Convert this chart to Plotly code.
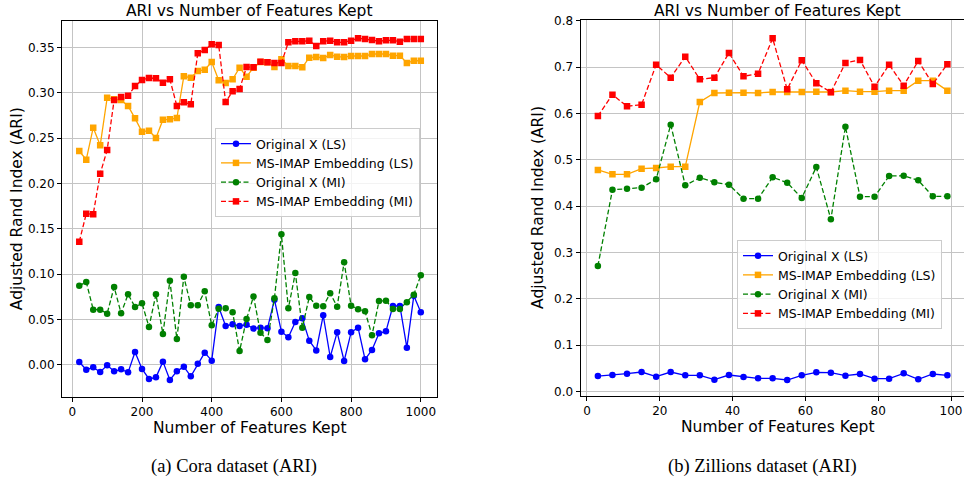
import plotly.graph_objects as go

# ---------------- data ----------------
cora_x = list(range(20, 1001, 20))
cora_orig_ls = [0.0032, -0.0053, -0.0027, -0.0078, -0.0005, -0.0071, -0.0049, -0.0082, 0.0142, -0.0045,
                -0.0155, -0.0137, 0.0036, -0.0166, -0.0071, -0.0020, -0.0126, 0.0013, 0.0135, 0.0047,
                0.0638, 0.0429, 0.0447, 0.0429, 0.0443, 0.0401, 0.0410, 0.0403, 0.0719, 0.0366,
                0.0304, 0.0473, 0.0513, 0.0267, 0.0160, 0.0546, 0.0087, 0.0359, 0.0043, 0.0359,
                0.0410, 0.0062, 0.0164, 0.0348, 0.0370, 0.0649, 0.0649, 0.0190, 0.0763, 0.0580]
cora_msimap_ls = [0.2357, 0.2261, 0.2614, 0.2420, 0.2945, 0.2927, 0.2919, 0.2853, 0.2717, 0.2570,
                  0.2581, 0.2500, 0.2702, 0.2706, 0.2721, 0.3180, 0.3165, 0.3239, 0.3253, 0.3338,
                  0.3136, 0.3107, 0.3147, 0.3275, 0.3176, 0.3275, 0.3338, 0.3335, 0.3283, 0.3368,
                  0.3294, 0.3294, 0.3280, 0.3385, 0.3393, 0.3382, 0.3415, 0.3397, 0.3393, 0.3404,
                  0.3404, 0.3404, 0.3426, 0.3426, 0.3426, 0.3408, 0.3408, 0.3327, 0.3352, 0.3352]
cora_orig_mi = [0.0873, 0.0914, 0.0609, 0.0609, 0.0565, 0.0859, 0.0568, 0.0778, 0.0638, 0.0679,
                0.0418, 0.0778, 0.0340, 0.0928, 0.0285, 0.0972, 0.0657, 0.0657, 0.0811, 0.0436,
                0.0620, 0.0623, 0.0580, 0.0153, 0.0506, 0.0754, 0.0355, 0.0274, 0.0734, 0.1439,
                0.0623, 0.1013, 0.0410, 0.0748, 0.0653, 0.0645, 0.0789, 0.0642, 0.1131, 0.0653,
                0.0612, 0.0590, 0.0326, 0.0704, 0.0708, 0.0616, 0.0616, 0.0690, 0.0774, 0.0987]
cora_msimap_mi = [0.1358, 0.1666, 0.1660, 0.2107, 0.2368, 0.2919, 0.2952, 0.2967, 0.3073, 0.3140,
                  0.3162, 0.3158, 0.3110, 0.3147, 0.2853, 0.2894, 0.2872, 0.3434, 0.3470, 0.3533,
                  0.3525, 0.2897, 0.3015, 0.3040, 0.3283, 0.3280, 0.3342, 0.3335, 0.3327, 0.3327,
                  0.3555, 0.3566, 0.3566, 0.3573, 0.3514, 0.3566, 0.3573, 0.3555, 0.3555, 0.3573,
                  0.3599, 0.3591, 0.3580, 0.3566, 0.3577, 0.3577, 0.3562, 0.3591, 0.3591, 0.3591]

zil_x = list(range(3, 100, 4))
zil_orig_ls = [0.0330, 0.0352, 0.0380, 0.0417, 0.0316, 0.0417, 0.0345, 0.0345, 0.0251, 0.0352,
               0.0309, 0.0280, 0.0280, 0.0244, 0.0345, 0.0410, 0.0403, 0.0338, 0.0374, 0.0273,
               0.0273, 0.0388, 0.0259, 0.0374, 0.0345]
zil_msimap_ls = [0.4780, 0.4687, 0.4687, 0.4809, 0.4823, 0.4851, 0.4851, 0.6248, 0.6443, 0.6450,
                 0.6450, 0.6443, 0.6464, 0.6464, 0.6464, 0.6471, 0.6464, 0.6493, 0.6471, 0.6471,
                 0.6493, 0.6493, 0.6709, 0.6709, 0.6493]
zil_orig_mi = [0.2706, 0.4354, 0.4376, 0.4398, 0.4578, 0.5759, 0.4449, 0.4614, 0.4514, 0.4463,
               0.4160, 0.4160, 0.4622, 0.4506, 0.4175, 0.4844, 0.3715, 0.5715, 0.4203, 0.4203,
               0.4650, 0.4657, 0.4557, 0.4211, 0.4211]
zil_msimap_mi = [0.5946, 0.6406, 0.6155, 0.6190, 0.7054, 0.6774, 0.7227, 0.6739, 0.6774, 0.7307,
                 0.6803, 0.6860, 0.7624, 0.6522, 0.7149, 0.6652, 0.6458, 0.7091, 0.7156, 0.6579,
                 0.7054, 0.6601, 0.7134, 0.6637, 0.7063]

series_names = ["Original X (LS)", "MS-IMAP Embedding (LS)", "Original X (MI)", "MS-IMAP Embedding (MI)"]
left_ticks_x = [0, 200, 400, 600, 800, 1000]
left_ticks_y = [0.00, 0.05, 0.10, 0.15, 0.20, 0.25, 0.30, 0.35]
right_ticks_x = [0, 20, 40, 60, 80, 100]
right_ticks_y = [0.0, 0.1, 0.2, 0.3, 0.4, 0.5, 0.6, 0.7, 0.8]
plot_title = "ARI vs Number of Features Kept"
x_title = "Number of Features Kept"
y_title = "Adjusted Rand Index (ARI)"
captions = ["(a) Cora dataset (ARI)", "(b) Zillions dataset (ARI)"]

# ---------------- styling ----------------
W, H = 964, 487
DASH = "5px,2.5px"
styles = [
    dict(color="blue", dash="solid", symbol="circle"),
    dict(color="orange", dash="solid", symbol="square"),
    dict(color="green", dash=DASH, symbol="circle"),
    dict(color="red", dash=DASH, symbol="square"),
]

fig = go.Figure()

def add_series(x, ys, xa, ya, legend):
    for name, y, st in zip(series_names, ys, styles):
        fig.add_trace(go.Scatter(
            x=x, y=y, name=name, mode="lines+markers",
            line=dict(color=st["color"], dash=st["dash"], width=1.3),
            marker=dict(color=st["color"], symbol=st["symbol"], size=6.5),
            xaxis=xa, yaxis=ya, legend=legend,
        ))

add_series(cora_x, [cora_orig_ls, cora_msimap_ls, cora_orig_mi, cora_msimap_mi], "x", "y", "legend")
add_series(zil_x, [zil_orig_ls, zil_msimap_ls, zil_orig_mi, zil_msimap_mi], "x2", "y2", "legend2")

# pixel boxes
L = dict(x0=62, x1=437, y0=21.3, y1=397)
R = dict(x0=580.6, x1=964, y0=20, y1=395.9)

def xd(b):
    return [b["x0"] / W, b["x1"] / W]

def yd(b):
    return [1 - b["y1"] / H, 1 - b["y0"] / H]

tickfont = dict(family="DejaVu Sans", size=12, color="black")
axcommon = dict(showline=True, linecolor="black", linewidth=1, mirror=True,
                ticks="outside", ticklen=4, tickcolor="black", tickwidth=1,
                showgrid=True, gridcolor="#c4c4c4", gridwidth=1, zeroline=False,
                tickfont=tickfont)

legfont = dict(family="DejaVu Sans", size=12.5, color="black")
fig.update_layout(
    width=W, height=H, margin=dict(l=0, r=0, t=0, b=0, autoexpand=False),
    paper_bgcolor="white", plot_bgcolor="white",
    font=dict(family="DejaVu Sans", color="black"),
    xaxis=dict(domain=xd(L), range=[-29.6, 1046.5], tickvals=left_ticks_x, anchor="y", **axcommon),
    yaxis=dict(domain=yd(L), range=[-0.03538, 0.37866], tickvals=left_ticks_y, tickformat=".2f", anchor="x", **axcommon),
    xaxis2=dict(domain=xd(R), range=[-1.75, 103.57], tickvals=right_ticks_x, anchor="y2", **axcommon),
    yaxis2=dict(domain=yd(R), range=[-0.0099, 0.8019], tickvals=right_ticks_y, tickformat=".1f", anchor="x2", **axcommon),
    legend=dict(x=215 / W, y=1 - 128 / H, xanchor="left", yanchor="top",
                bgcolor="rgba(255,255,255,0.8)", bordercolor="#cccccc", borderwidth=1,
                font=legfont, tracegroupgap=0),
    legend2=dict(x=737 / W, y=1 - 240 / H, xanchor="left", yanchor="top",
                 bgcolor="rgba(255,255,255,0.8)", bordercolor="#cccccc", borderwidth=1,
                 font=legfont, tracegroupgap=0),
)

ann = []
panels = [
    dict(b=L, cap=captions[0], cx=(62 + 437) / 2, capx=234, ylx=17, xty=428),
    dict(b=R, cap=captions[1], cx=777, capx=762, ylx=538, xty=427),
]
for p in panels:
    b, cx = p["b"], p["cx"]
    ann.append(dict(text=plot_title, x=cx / W, y=1 - 11 / H, xref="paper", yref="paper",
                    showarrow=False, xanchor="center", yanchor="middle",
                    font=dict(family="DejaVu Sans", size=15.5, color="black")))
    ann.append(dict(text=x_title, x=cx / W, y=1 - p["xty"] / H, xref="paper", yref="paper",
                    showarrow=False, xanchor="center", yanchor="middle",
                    font=dict(family="DejaVu Sans", size=15.5, color="black")))
    ann.append(dict(text=p["cap"], x=p["capx"] / W, y=1 - 466 / H, xref="paper", yref="paper",
                    showarrow=False, xanchor="center", yanchor="middle",
                    font=dict(family="Liberation Serif", size=18.5, color="black")))
    ycen = (b["y0"] + b["y1"]) / 2
    ann.append(dict(text=y_title, x=p["ylx"] / W, y=1 - ycen / H, xref="paper", yref="paper",
                    showarrow=False, xanchor="center", yanchor="middle", textangle=-90,
                    font=dict(family="DejaVu Sans", size=15.5, color="black")))
fig.update_layout(annotations=ann)

fig.write_html("out.html", config={"displayModeBar": False},
               post_script="document.body.style.margin='0';document.body.style.padding='0';"
                           "document.documentElement.style.overflow='hidden';")
